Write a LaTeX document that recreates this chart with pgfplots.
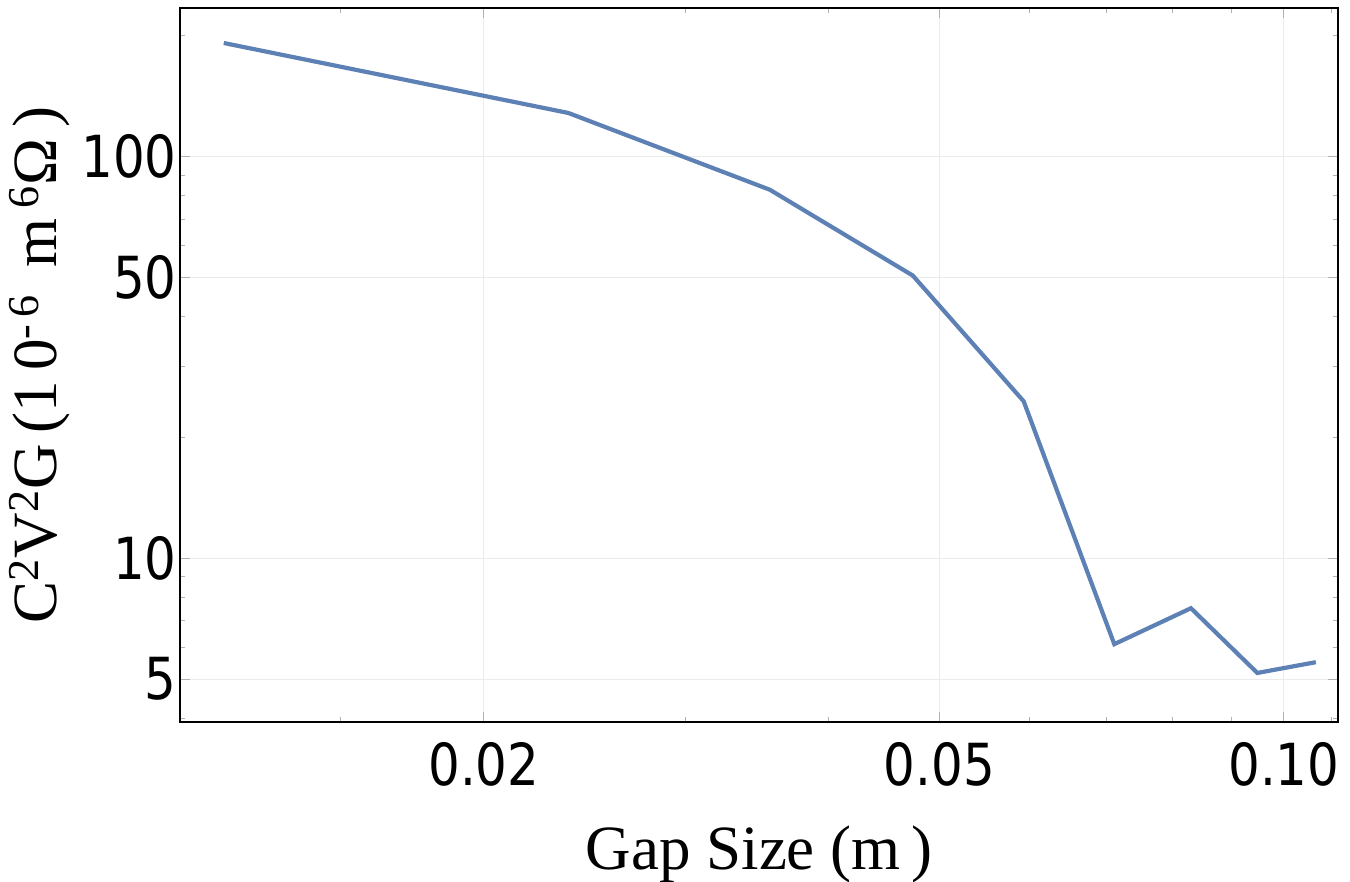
\documentclass[border=0pt]{standalone}
\usepackage{pgfplots}
\pgfplotsset{compat=1.18}
\usepackage{fontspec}
\setmainfont{Liberation Serif}
\newfontfamily\tickfont[FakeStretch=0.86]{DejaVu Sans}
\definecolor{lineblue}{RGB}{94,129,181}
\begin{document}
\begin{tikzpicture}
\path[use as bounding box] (-90pt,-80pt) rectangle (585pt,361pt);
\begin{axis}[
  scale only axis, width=579pt, height=357pt,
  xmode=log, ymode=log,
  xmin=0.01085, xmax=0.1115, ymin=3.91, ymax=234.8,
  xtick={0.02,0.05,0.1}, xticklabels={0.02,0.05,0.10},
  ytick={5,10,50,100}, yticklabels={5,10,50,100},
  minor xtick={0.015,0.03,0.04,0.06,0.07,0.08,0.09,0.11},
  minor ytick={4,6,7,8,9,20,30,40,60,70,80,90,200},
  grid=major, major grid style={color=black!8, line width=0.5pt},
  axis line style={line width=1pt},
  tick style={color=black!30, line width=0.5pt},
  major tick length=5pt, minor tick length=2.5pt,
  tick align=inside,
  /pgf/number format/assume math mode=true,
  ticklabel style={font=\tickfont\fontsize{29}{29}\selectfont},
  xticklabel style={inner sep=0pt, yshift=-10pt},
  yticklabel style={inner sep=0pt, xshift=-1.5pt},
  xlabel={Gap Size (m\,)},
  ylabel={C\textsuperscript{2}V\textsuperscript{2}G\,(1\,0\textsuperscript{-\,6}\, m\,\textsuperscript{6}Ω\,)},
  label style={font=\fontsize{31.5}{32}\selectfont},
  xlabel style={at={(axis description cs:0.5,0)}, anchor=base, yshift=-74pt},
  ylabel style={at={(axis description cs:0,0.5)}, anchor=center, yshift=70pt},
]
\addplot[color=lineblue, line width=2.1pt] coordinates {
  (0.01185,192.1) (0.0237,128.6) (0.03555,82.8) (0.0474,50.6) (0.05925,24.6)
  (0.0711,6.11) (0.08295,7.51) (0.0948,5.18) (0.10665,5.51)
};
\end{axis}
\end{tikzpicture}
\end{document}
